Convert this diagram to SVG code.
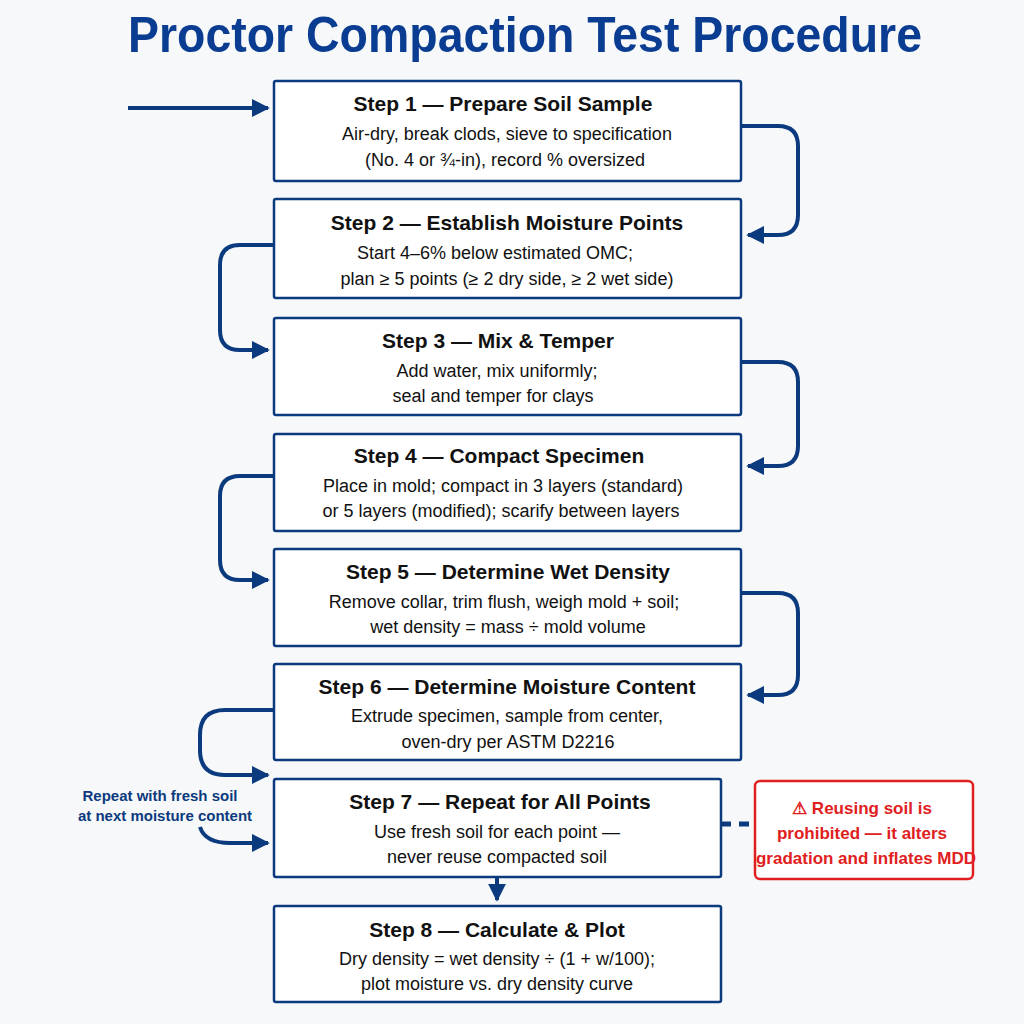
<svg xmlns="http://www.w3.org/2000/svg" width="1024" height="1024" viewBox="0 0 1024 1024">
<style>
.box{fill:#fff;stroke:#0b3a7e;stroke-width:2.5}
.t{font-family:"Liberation Sans",Arial,sans-serif;font-weight:bold;font-size:21px;fill:#111;text-anchor:middle}
.d{font-family:"Liberation Sans",Arial,sans-serif;font-size:18px;fill:#111;text-anchor:middle}
.c{fill:none;stroke:#0b3a7e;stroke-width:4}
.n{font-family:"Liberation Sans",Arial,sans-serif;font-weight:bold;font-size:15px;fill:#0b3a7e;text-anchor:middle}
.w{font-family:"Liberation Sans",Arial,sans-serif;font-weight:bold;font-size:17px;fill:#e02020;text-anchor:middle}
</style>
<defs>
<marker id="a" viewBox="0 0 10 10" refX="9" refY="5" markerWidth="4.5" markerHeight="4.5" orient="auto" markerUnits="strokeWidth"><path d="M0,0L10,5L0,10z" fill="#0b3a7e"/></marker>
</defs>
<rect width="1024" height="1024" fill="#f7f8f9"/>
<text x="525" y="52" font-family="'Liberation Sans',Arial,sans-serif" font-weight="bold" font-size="50" fill="#0a3d91" text-anchor="middle" textLength="794" lengthAdjust="spacingAndGlyphs">Proctor Compaction Test Procedure</text>
<g id="connectors">
<path class="c" d="M128,108H268" marker-end="url(#a)"/>
<path class="c" d="M741,126H778Q798,126 798,146V215Q798,235 778,235H748" marker-end="url(#a)"/>
<path class="c" d="M274,245H240Q220,245 220,265V330Q220,350 240,350H268" marker-end="url(#a)"/>
<path class="c" d="M741,362H778Q798,362 798,382V446Q798,466 778,466H748" marker-end="url(#a)"/>
<path class="c" d="M274,476H240Q220,476 220,496V560Q220,580 240,580H268" marker-end="url(#a)"/>
<path class="c" d="M741,593H778Q798,593 798,613V675Q798,695 778,695H748" marker-end="url(#a)"/>
<path class="c" d="M274,710H225Q200,710 200,735V750Q200,775 225,775H268" marker-end="url(#a)"/>
<path class="c" d="M200,827Q205,843 230,843H268" marker-end="url(#a)"/>
<path class="c" d="M497,877V900" marker-end="url(#a)"/>
<path d="M721,824H755" stroke="#0b3a7e" stroke-width="5" stroke-dasharray="10,8"/>
</g>
<g id="s1"><rect class="box" x="274" y="81" width="467" height="100" rx="2"/><text class="t" x="503" y="111">Step 1 — Prepare Soil Sample</text><text class="d" x="507" y="140">Air-dry, break clods, sieve to specification</text><text class="d" x="505" y="166">(No. 4 or ¾-in), record % oversized</text></g>
<g id="s2"><rect class="box" x="274" y="199" width="467" height="99" rx="2"/><text class="t" x="507" y="230">Step 2 — Establish Moisture Points</text><text class="d" x="495" y="259">Start 4–6% below estimated OMC;</text><text class="d" x="507" y="285">plan ≥ 5 points (≥ 2 dry side, ≥ 2 wet side)</text></g>
<g id="s3"><rect class="box" x="274" y="318" width="467" height="97" rx="2"/><text class="t" x="498" y="348">Step 3 — Mix &amp; Temper</text><text class="d" x="497" y="377">Add water, mix uniformly;</text><text class="d" x="493" y="402">seal and temper for clays</text></g>
<g id="s4"><rect class="box" x="274" y="434" width="467" height="97" rx="2"/><text class="t" x="499" y="463">Step 4 — Compact Specimen</text><text class="d" x="503" y="492">Place in mold; compact in 3 layers (standard)</text><text class="d" x="501" y="517">or 5 layers (modified); scarify between layers</text></g>
<g id="s5"><rect class="box" x="274" y="549" width="467" height="97" rx="2"/><text class="t" x="508" y="579">Step 5 — Determine Wet Density</text><text class="d" x="504" y="608">Remove collar, trim flush, weigh mold + soil;</text><text class="d" x="508" y="633">wet density = mass ÷ mold volume</text></g>
<g id="s6"><rect class="box" x="274" y="664" width="467" height="96" rx="2"/><text class="t" x="507" y="694">Step 6 — Determine Moisture Content</text><text class="d" x="507" y="722">Extrude specimen, sample from center,</text><text class="d" x="508" y="748">oven-dry per ASTM D2216</text></g>
<g id="s7"><rect class="box" x="274" y="779" width="447" height="98" rx="2"/><text class="t" x="500" y="809">Step 7 — Repeat for All Points</text><text class="d" x="497" y="838">Use fresh soil for each point —</text><text class="d" x="497" y="863">never reuse compacted soil</text></g>
<g id="s8"><rect class="box" x="274" y="906" width="447" height="96" rx="2"/><text class="t" x="497" y="937">Step 8 — Calculate &amp; Plot</text><text class="d" x="497" y="965">Dry density = wet density ÷ (1 + w/100);</text><text class="d" x="497" y="990">plot moisture vs. dry density curve</text></g>
<g id="note"><text class="n" x="160" y="801">Repeat with fresh soil</text><text class="n" x="165" y="821">at next moisture content</text></g>
<g id="warn"><rect x="755" y="781" width="218" height="98" rx="5" fill="#fff" stroke="#e02020" stroke-width="2.5"/><text class="w" x="862" y="814">⚠ Reusing soil is</text><text class="w" x="862" y="839">prohibited — it alters</text><text class="w" x="866" y="864">gradation and inflates MDD</text></g>
</svg>
